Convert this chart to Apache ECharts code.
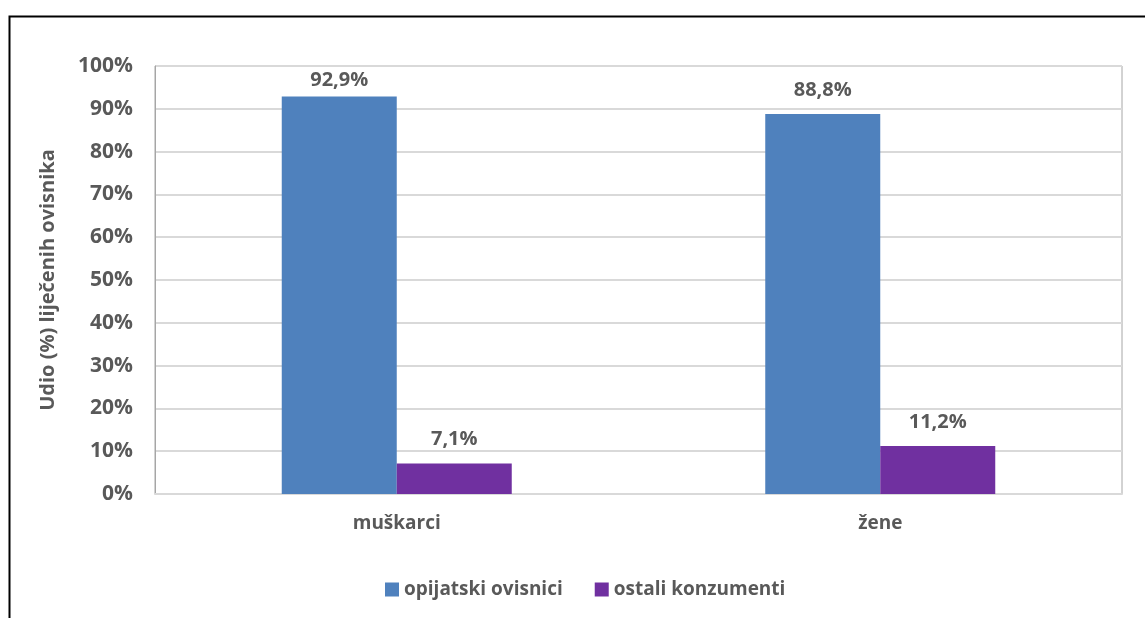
<!DOCTYPE html>
<html><head><meta charset="utf-8">
<script src="https://cdn.jsdelivr.net/npm/echarts@6/dist/echarts.min.js"></script>
<style>html,body{margin:0;padding:0;background:#fff}#c{width:1145px;height:618px}</style>
</head><body><div id="c"></div>
<script>
const categories = ['muškarci', 'žene'];
const seriesNames = ['opijatski ovisnici', 'ostali konzumenti'];
const opijatski = [92.9, 88.8];
const ostali = [7.1, 11.2];
const yAxisTitle = 'Udio (%) liječenih ovisnika';

const FONT = '"Open Sans", Lato, sans-serif';
const TXT = '#595959';
const chart = echarts.init(document.getElementById('c'), null, {renderer: 'canvas'});
const lbl = {
  show: true, position: 'top', distance: 14, color: TXT, fontFamily: FONT,
  fontSize: 20, fontWeight: 'bold',
  formatter: p => p.value.toFixed(1).replace('.', ',') + '%'
};
// labels near the plot top are pulled down inside the plot area
const items = arr => arr.map(v => v > 90 ? {value: v, label: {distance: 6}} : v);
chart.setOption({
  animation: false,
  graphic: [{
    type: 'rect', left: 7, top: 14, shape: {width: 1160, height: 640},
    style: {fill: 'none', stroke: '#000', lineWidth: 2}, silent: true, z: 100
  }],
  grid: {left: 155, right: 23, top: 66, bottom: 124, show: true, borderColor: '#a6a6a6', borderWidth: 1, backgroundColor: 'transparent'},
  legend: {
    left: 380, top: 575, itemWidth: 14, itemHeight: 14, itemGap: 32, icon: 'rect',
    textStyle: {color: TXT, fontFamily: FONT, fontSize: 19, fontWeight: 'bold'},
    data: seriesNames
  },
  xAxis: {
    type: 'category', data: categories,
    axisLine: {show: true, lineStyle: {color: '#d9d9d9', width: 2}},
    axisTick: {show: false},
    axisLabel: {color: TXT, fontFamily: FONT, fontSize: 19, fontWeight: 'bold', margin: 20}
  },
  yAxis: {
    type: 'value', min: 0, max: 100, interval: 10,
    name: yAxisTitle, nameLocation: 'middle', nameGap: 97, nameRotate: 90,
    nameTextStyle: {color: TXT, fontFamily: FONT, fontSize: 20, fontWeight: 'bold'},
    axisLine: {show: true, lineStyle: {color: '#a6a6a6'}},
    axisTick: {show: false},
    splitLine: {lineStyle: {color: '#d9d9d9', width: 2}},
    axisLabel: {color: TXT, fontFamily: FONT, fontSize: 21, fontWeight: 'bold', margin: 22, formatter: '{value}%'}
  },
  series: [
    {name: seriesNames[0], type: 'bar', data: items(opijatski), barWidth: 115, barGap: '0%', itemStyle: {color: '#4F81BD'}, label: lbl},
    {name: seriesNames[1], type: 'bar', data: items(ostali), barWidth: 115, barGap: '0%', itemStyle: {color: '#7030A0'}, label: lbl}
  ]
});
</script></body></html>
